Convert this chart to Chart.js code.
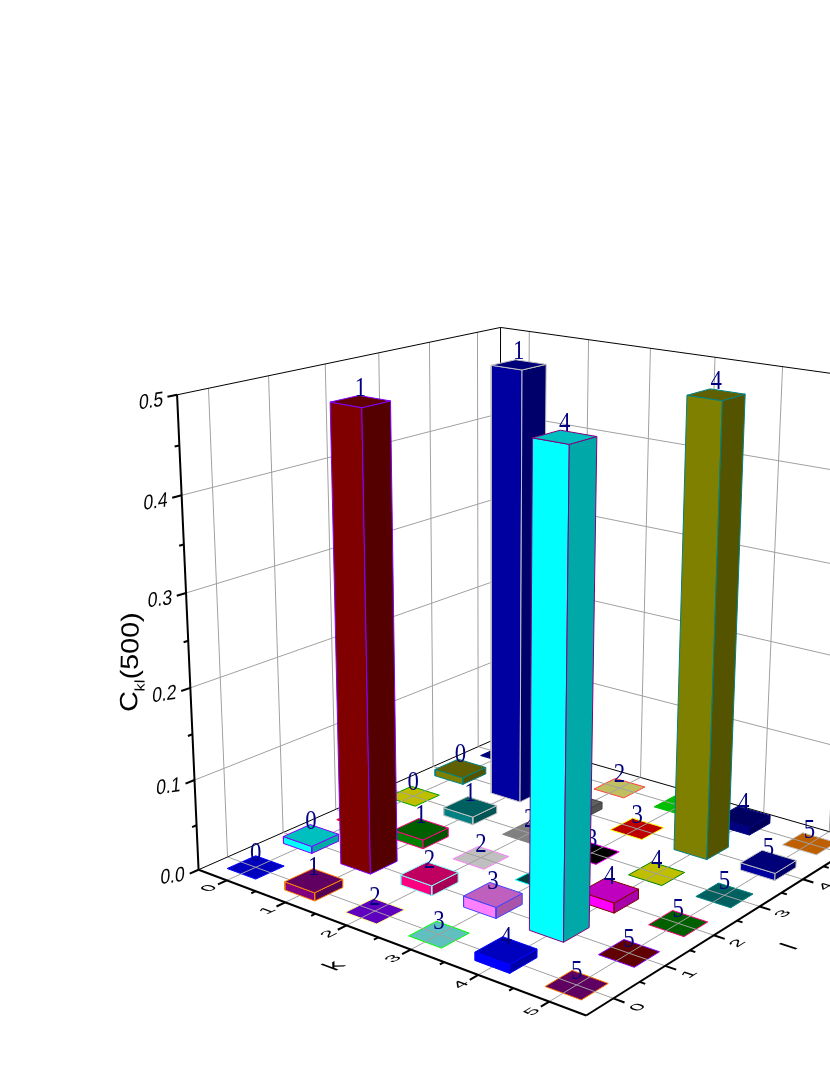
<!DOCTYPE html>
<html>
<head>
<meta charset="utf-8">
<title>Ckl(500) 3D bars</title>
<script src="https://cdn.jsdelivr.net/npm/chart.js@4"></script>
<style>html,body{margin:0;padding:0;background:#fff}canvas{display:block}</style>
</head>
<body>
<canvas id="c" width="830" height="1075"></canvas>
<script>
// ---- data -------------------------------------------------------------
const kTicks = [0, 1, 2, 3, 4, 5];
const lTicks = [0, 1, 2, 3, 4, 5];
const zTicks = [0.0, 0.1, 0.2, 0.3, 0.4, 0.5];
const zMinorTicks = [0.05, 0.15, 0.25, 0.35, 0.45];
// value of C_kl(500), one list per k, indexed by l
const valuesK0 = [0, 0.008, 0, 0, 0.008, 0];
const valuesK1 = [0.009, 0.49, 0.01, 0.009, 0.49, 0];
const valuesK2 = [0, 0.011, 0, 0, 0.008, 0];
const valuesK3 = [0, 0.012, 0, 0, 0, 0];
const valuesK4 = [0.009, 0.49, 0.011, 0, 0.49, 0.009];
const valuesK5 = [0, 0, 0, 0, 0.008, 0];
const values = [valuesK0, valuesK1, valuesK2, valuesK3, valuesK4, valuesK5];
// face colours
const fillK0 = ['#0000ff','#00ffff','#ff0000','#ffff00','#808000','#0000a0'];
const fillK1 = ['#800080','#800000','#008000','#008080','#0000a0','#c0c0c0'];
const fillK2 = ['#8000ff','#ff0080','#ffffff','#aaaaaa','#808080','#ffff80'];
const fillK3 = ['#80ffff','#ff80ff','#005555','#000000','#ff0000','#00ff00'];
const fillK4 = ['#0000ff','#00ffff','#ff00ff','#ffff00','#808000','#000080'];
const fillK5 = ['#800080','#800000','#008000','#008080','#0000a0','#ff8000'];
const fills = [fillK0, fillK1, fillK2, fillK3, fillK4, fillK5];
const edgeK0 = ['#0000ff','#8000ff','#ff0000','#00a000','#008080','#000080'];
const edgeK1 = ['#ff8000','#8000ff','#ff0080','#c0c0c0','#c0c0c0','#c0c0c0'];
const edgeK2 = ['#ffff80','#80ffff','#ff80ff','#808080','#404040','#ff4040'];
const edgeK3 = ['#00ff00','#4040ff','#00ffff','#ff00ff','#ffff00','#00c000'];
const edgeK4 = ['#0000ff','#800080','#800000','#008000','#008080','#000080'];
const edgeK5 = ['#ff8000','#8000ff','#ff0080','#008080','#c0c0c0','#c0c0c0'];
const edges = [edgeK0, edgeK1, edgeK2, edgeK3, edgeK4, edgeK5];

// ---- camera: perspective projection fitted to the reference frame --------
const K0 = -0.5, K1 = 5.5, L0 = -0.5, L1 = 5.5, Z1 = 0.5, HALF = 0.25;
const camera = [
 [-.5,-.5,0,198,870],[5.5,-.5,0,587,1014],[-.5,5.5,0,500,737],[-.5,-.5,.5,177,395],
 [-.5,5.5,.5,500.5,326],[-.5,-.5,.1,195,780],[-.5,-.5,.3,186,593],
 [2,-.5,0,347,926],[5.5,0,0,613,998],[5.5,2,0,718,937],[5.5,4,0,808,882],
 [0,0,0,255,868],[5,0,0,576,984],[5,5,0,807,843],[3,0,0,438,935],[2,0,0,375,911],
 [5,1,0,628,953],[5,2,0,677,923],[5,3,0,723,894],[3,4,0,636,828],[2,5,0,618,788],
 [4,3,0,655,873],[2,2,0,480,857],[0,3,0,417,797],
 [0,5.5,.5,529,332],[2,5.5,.5,651,348],[4,5.5,.5,782,368],
 [-.5,0,.5,208,389],[-.5,2,.5,326,363]
];
function solveCamera(rows){
  const n=11, A=Array.from({length:n},()=>new Array(n+1).fill(0));
  const add=(r,b)=>{for(let i=0;i<n;i++){for(let j=0;j<n;j++)A[i][j]+=r[i]*r[j];A[i][n]+=r[i]*b;}};
  rows.forEach(([k,l,z,u,v])=>{
    const Z=z*10,U=u/1000,V=v/1000;
    add([k,l,Z,1,0,0,0,0,-U*k,-U*l,-U*Z],U);
    add([0,0,0,0,k,l,Z,1,-V*k,-V*l,-V*Z],V);
  });
  for(let c=0;c<n;c++){
    let p=c;for(let r=c+1;r<n;r++)if(Math.abs(A[r][c])>Math.abs(A[p][c]))p=r;
    [A[c],A[p]]=[A[p],A[c]];
    for(let r=0;r<n;r++){if(r===c)continue;const f=A[r][c]/A[c][c];for(let j=c;j<=n;j++)A[r][j]-=f*A[c][j];}
  }
  return A.map((row,i)=>row[n]/row[i]);
}
const P=solveCamera(camera);
function proj(k,l,z){
  const Z=z*10,w=P[8]*k+P[9]*l+P[10]*Z+1;
  return {x:1000*(P[0]*k+P[1]*l+P[2]*Z+P[3])/w, y:1000*(P[4]*k+P[5]*l+P[6]*Z+P[7])/w};
}

// ---- build datasets, painter's order ---------------------------------------
const datasets=[];
function line(a,b,color,width){
  datasets.push({data:[a,b],showLine:true,fill:false,borderColor:color,borderWidth:width,pointRadius:0,order:-datasets.length});
}
function poly(pts,fillColor,edge){
  datasets.push({data:[...pts,pts[0]],showLine:true,fill:'shape',backgroundColor:fillColor,borderColor:edge,borderWidth:1,pointRadius:0,order:-datasets.length});
}
function shade(hex,f){
  const v=parseInt(hex.slice(1),16),c=s=>Math.round(((v>>s)&255)*f);
  return `rgb(${c(16)},${c(8)},${c(0)})`;
}
const GRID='#a0a0a0';
// walls
kTicks.forEach(k=>line(proj(k,L1,0),proj(k,L1,Z1),GRID,1));
lTicks.forEach(l=>line(proj(K0,l,0),proj(K0,l,Z1),GRID,1));
zTicks.slice(1,-1).forEach(z=>{
  line(proj(K0,L0,z),proj(K0,L1,z),GRID,1);
  line(proj(K0,L1,z),proj(K1,L1,z),GRID,1);
});
// frame of the walls
line(proj(K0,L0,Z1),proj(K0,L1,Z1),'#000',1);
line(proj(K0,L1,Z1),proj(K1,L1,Z1),'#000',1);
line(proj(K0,L1,0),proj(K0,L1,Z1),'#000',1);
line(proj(K0,L0,0),proj(K0,L1,0),'#000',1);
line(proj(K0,L1,0),proj(K1,L1,0),'#000',1);

function cellLabel(k,l,z){
  datasets[datasets.length-1].cellLabel={text:String(kTicks[k]),k:kTicks[k],l:lTicks[l],z};
}
const cells=[];
kTicks.forEach((k,i)=>lTicks.forEach((l,j)=>cells.push({i,j,k,l,z:values[i][j],depth:k-l})));
cells.sort((a,b)=>a.depth-b.depth||a.k-b.k);
// flat cells lie under the floor grid
cells.filter(c=>c.z===0).forEach(c=>{
  const {k,l}=c,d=HALF;
  poly([proj(k-d,l-d,0),proj(k+d,l-d,0),proj(k+d,l+d,0),proj(k-d,l+d,0)],shade(fills[c.i][c.j],.75),edges[c.i][c.j]);
  cellLabel(c.i,c.j,0);
});
// floor grid
kTicks.forEach(k=>line(proj(k,L0,0),proj(k,L1,0),GRID,1));
lTicks.forEach(l=>line(proj(K0,l,0),proj(K1,l,0),GRID,1));
// raised bars
cells.filter(c=>c.z>0).forEach(c=>{
  const {k,l,z}=c,d=HALF,col=fills[c.i][c.j],e=edges[c.i][c.j];
  poly([proj(k-d,l-d,0),proj(k+d,l-d,0),proj(k+d,l-d,z),proj(k-d,l-d,z)],col,e);
  poly([proj(k+d,l-d,0),proj(k+d,l+d,0),proj(k+d,l+d,z),proj(k+d,l-d,z)],shade(col,.66),e);
  poly([proj(k-d,l-d,z),proj(k+d,l-d,z),proj(k+d,l+d,z),proj(k-d,l+d,z)],shade(col,.75),e);
  cellLabel(c.i,c.j,z);
});
// axes
const T=0.15;
line(proj(K0,L0,0),proj(K0,L0,Z1),'#000',2);
line(proj(K0,L0,0),proj(K1,L0,0),'#000',2);
line(proj(K1,L0,0),proj(K1,L1,0),'#000',2);
zTicks.forEach(z=>line(proj(K0,L0,z),proj(K0,L0-T,z),'#000',2));
zMinorTicks.forEach(z=>line(proj(K0,L0,z),proj(K0,L0-T/2,z),'#000',2));
kTicks.forEach(k=>{line(proj(k,L0,0),proj(k,L0-T,0),'#000',2);if(k<5)line(proj(k+.5,L0,0),proj(k+.5,L0-T/2,0),'#000',2);});
lTicks.forEach(l=>{line(proj(K1,l,0),proj(K1+T,l,0),'#000',2);if(l<5)line(proj(K1,l+.5,0),proj(K1+T/2,l+.5,0),'#000',2);});

// ---- text -------------------------------------------------------------------
function floorMatrix(k,l,sx,sy){
  const o=proj(k,l,0),r=proj(k,l+.1,0),u=proj(k+.1,l,0);
  const rl=Math.hypot(r.x-o.x,r.y-o.y),ul=Math.hypot(u.x-o.x,u.y-o.y);
  return [(r.x-o.x)/rl*sx,(r.y-o.y)/rl*sx,(u.x-o.x)/ul*sy,(u.y-o.y)/ul*sy];
}
function text(ctx,x,y,str,font,m,color){
  ctx.save();
  ctx.transform(m[0],m[1],m[2],m[3],x,y);
  ctx.font=font;ctx.fillStyle=color||'#000';ctx.textAlign='center';ctx.textBaseline='middle';
  ctx.fillText(str,0,0);
  ctx.restore();
}
const sceneText={
  id:'sceneText',
  afterDatasetDraw(chart,args){
    const lab=chart.data.datasets[args.index].cellLabel;
    if(!lab)return;
    const p=proj(lab.k,lab.l,lab.z),ctx=chart.ctx;
    const px=chart.scales.x.getPixelForValue(p.x),py=chart.scales.y.getPixelForValue(p.y);
    text(ctx,px,py-13,lab.text,'24px "Liberation Serif"',[.95,0,0,1.12],'#000080');
  },
  afterDraw(chart){
    const ctx=chart.ctx,X=v=>chart.scales.x.getPixelForValue(v),Y=v=>chart.scales.y.getPixelForValue(v);
    const SANS='"Liberation Sans"';
    zTicks.forEach(z=>{
      const p=proj(K0,L0,z);
      text(ctx,X(p.x)-26,Y(p.y)+7,z.toFixed(1),'20px '+SANS,[.88,-.13,-.08,1.05]);
    });
    kTicks.forEach(k=>{
      const p=proj(k,L0-.3,0);
      text(ctx,X(p.x),Y(p.y),String(k),'21px '+SANS,floorMatrix(k,L0,1,.72));
    });
    lTicks.forEach(l=>{
      const p=proj(K1+.33,l,0);
      text(ctx,X(p.x),Y(p.y),String(l),'21px '+SANS,floorMatrix(K1,l,1,.72));
    });
    let p=proj(2.6,L0-.85,0);
    text(ctx,X(p.x),Y(p.y),'k','26px '+SANS,floorMatrix(2.5,L0,1,.9));
    p=proj(K1+.85,2.3,0);
    text(ctx,X(p.x),Y(p.y),'l','27px '+SANS,floorMatrix(K1,2.5,1,.9));
    // z title
    ctx.save();
    ctx.translate(137,712);
    ctx.rotate(-Math.PI/2+.02);
    ctx.scale(1.15,1);
    ctx.fillStyle='#000';ctx.textAlign='left';ctx.textBaseline='alphabetic';
    ctx.font='25px '+SANS;
    ctx.fillText('C',0,0);
    let x=ctx.measureText('C').width;
    ctx.font='14px '+SANS;
    ctx.fillText('kl',x,7);
    x+=ctx.measureText('kl').width;
    ctx.font='25px '+SANS;
    ctx.fillText('(500)',x,0);
    ctx.restore();
  }
};

new Chart(document.getElementById('c'),{
  type:'scatter',
  data:{datasets},
  plugins:[sceneText],
  options:{
    responsive:false,animation:false,events:[],
    layout:{padding:0},
    elements:{line:{tension:0,borderCapStyle:'butt'}},
    plugins:{legend:{display:false},tooltip:{enabled:false},title:{display:false},filler:{propagate:false}},
    scales:{
      x:{type:'linear',display:false,min:0,max:830},
      y:{type:'linear',display:false,min:0,max:1075,reverse:true}
    }
  }
});
</script>
</body>
</html>
